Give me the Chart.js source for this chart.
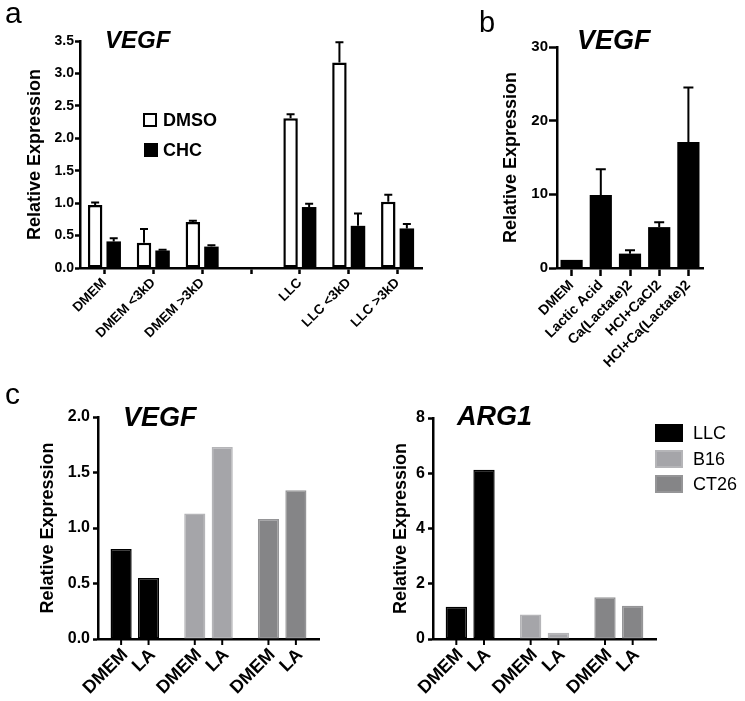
<!DOCTYPE html>
<html>
<head>
<meta charset="utf-8">
<script src="https://cdn.jsdelivr.net/npm/chart.js@4.4.0/dist/chart.umd.min.js"></script>
<style>
  body { margin: 0; background: #fff; width: 745px; height: 701px; position: relative; overflow: hidden;
         font-family: "Liberation Sans", Arial, sans-serif; color: #000; }
  canvas { position: absolute; }
  .txt { position: absolute; white-space: nowrap; line-height: 1; }
  .letter { font-size: 30px; }
  .gene { font-weight: bold; font-style: italic; }
  .box { position: absolute; box-sizing: border-box; }
</style>
</head>
<body>
<canvas id="chartA" width="440" height="345" style="left:0;top:0"></canvas>
<canvas id="chartB" width="285" height="385" style="left:460px;top:0"></canvas>
<canvas id="chartC1" width="360" height="331" style="left:0;top:370px"></canvas>
<canvas id="chartC2" width="375" height="331" style="left:370px;top:370px"></canvas>

<div class="txt letter" style="left:5px;top:-2px">a</div>
<div class="txt letter" style="left:479px;top:8px;font-size:29px">b</div>
<div class="txt letter" style="left:5px;top:379px">c</div>

<div class="txt gene" style="left:105px;top:28px;font-size:24px">VEGF</div>
<div class="txt gene" style="left:577px;top:27px;font-size:27px">VEGF</div>
<div class="txt gene" style="left:123px;top:404px;font-size:27px">VEGF</div>
<div class="txt gene" style="left:457px;top:403px;font-size:27px">ARG1</div>

<!-- legend a -->
<div class="box" style="left:143px;top:113px;width:14px;height:14px;border:2px solid #000;background:#fff"></div>
<div class="txt" style="left:163px;top:111px;font-size:18px;font-weight:bold">DMSO</div>
<div class="box" style="left:144px;top:143px;width:14px;height:14px;background:#000"></div>
<div class="txt" style="left:163px;top:141px;font-size:18px;font-weight:bold">CHC</div>

<!-- legend c -->
<div class="box" style="left:655px;top:424px;width:28px;height:18px;background:#000"></div>
<div class="txt" style="left:693px;top:424px;font-size:18px">LLC</div>
<div class="box" style="left:655px;top:450px;width:28px;height:18px;background:#a5a5a9;border:2px solid #b5b5b8"></div>
<div class="txt" style="left:693px;top:450px;font-size:18px">B16</div>
<div class="box" style="left:655px;top:475px;width:28px;height:18px;background:#858587;border:2px solid #959597"></div>
<div class="txt" style="left:693px;top:475px;font-size:18px">CT26</div>

<script>
// panel a: VEGF, DMSO vs CHC
const aCategories = ['DMEM', 'DMEM <3kD', 'DMEM >3kD', '', 'LLC', 'LLC <3kD', 'LLC >3kD'];
const aDMSO = [0.97, 0.39, 0.71, null, 2.31, 3.17, 1.02];
const aDMSOErr = [1.01, 0.60, 0.73, null, 2.37, 3.48, 1.13];
const aCHC = [0.41, 0.27, 0.33, null, 0.94, 0.65, 0.61];
const aCHCErr = [0.46, 0.28, 0.35, null, 0.99, 0.84, 0.68];
const aYTicks = [0, 0.5, 1, 1.5, 2, 2.5, 3, 3.5];

// panel b: VEGF by treatment
const bCategories = ['DMEM', 'Lactic Acid', 'Ca(Lactate)2', 'HCl+CaCl2', 'HCl+Ca(Lactate)2'];
const bValues = [1.1, 9.9, 1.95, 5.55, 17.1];
const bErr = [1.1, 13.4, 2.4, 6.2, 24.5];
const bYTicks = [0, 10, 20, 30];

// panel c: VEGF and ARG1 per cell line
const cLines = ['LLC', 'B16', 'CT26'];
const cTreatments = ['DMEM', 'LA'];
const cVegfDMEM = [0.81, 1.13, 1.08];
const cVegfLA = [0.55, 1.73, 1.34];
const cArgDMEM = [1.17, 0.89, 1.51];
const cArgLA = [6.13, 0.23, 1.2];
const cVegfTicks = [0, 0.5, 1, 1.5, 2];
const cArgTicks = [0, 2, 4, 6, 8];

const FONT = '"Liberation Sans", Arial, sans-serif';
const lineFill = ['#000000', '#a5a5a9', '#858587'];
const lineBorder = ['#000000', '#b5b5b8', '#959597'];

// one-sided error bars (upper only)
const errorBars = {
  id: 'errorBars',
  afterDatasetsDraw(chart, args, opts) {
    const ctx = chart.ctx;
    const y = chart.scales.y;
    chart.data.datasets.forEach((ds, i) => {
      if (!ds.errorTop) return;
      chart.getDatasetMeta(i).data.forEach((bar, j) => {
        const top = ds.errorTop[j];
        if (top == null || ds.data[j] == null || top <= ds.data[j]) return;
        const yTop = y.getPixelForValue(top);
        ctx.save();
        ctx.strokeStyle = '#000';
        ctx.lineWidth = 2;
        ctx.beginPath();
        ctx.moveTo(bar.x, bar.y);
        ctx.lineTo(bar.x, yTop);
        ctx.moveTo(bar.x - opts.cap, yTop);
        ctx.lineTo(bar.x + opts.cap, yTop);
        ctx.stroke();
        ctx.restore();
      });
    });
  }
};

// tick mark + rotated label under every bar (panel c)
const barTicks = {
  id: 'barTicks',
  afterDraw(chart) {
    const ctx = chart.ctx;
    const bottom = chart.chartArea.bottom;
    chart.data.datasets.forEach((ds, i) => {
      chart.getDatasetMeta(i).data.forEach(bar => {
        ctx.save();
        ctx.strokeStyle = '#000';
        ctx.lineWidth = 2;
        ctx.beginPath();
        ctx.moveTo(bar.x, bottom);
        ctx.lineTo(bar.x, bottom + 6);
        ctx.stroke();
        ctx.translate(bar.x + 4, bottom + 13);
        ctx.rotate(-Math.PI / 4);
        ctx.font = 'bold 18px ' + FONT;
        ctx.fillStyle = '#000';
        ctx.textAlign = 'right';
        ctx.textBaseline = 'middle';
        ctx.fillText(ds.label, 0, 0);
        ctx.restore();
      });
    });
  }
};

function yAxis(ticks, o) {
  return {
    min: ticks[0],
    max: ticks[ticks.length - 1],
    afterBuildTicks: s => { s.ticks = ticks.map(v => ({ value: v })); },
    afterFit: s => { s.width = o.width; },
    border: { display: true, color: '#000', width: 2.5 },
    grid: { drawOnChartArea: false, tickLength: o.tick, tickColor: '#000', tickWidth: 2.5 },
    ticks: {
      color: '#000', padding: o.pad,
      font: { family: FONT, size: o.size, weight: 'bold' },
      callback: v => o.dec ? v.toFixed(1) : String(v)
    },
    title: {
      display: true, text: 'Relative Expression', color: '#000',
      font: { family: FONT, size: 18, weight: 'bold' },
      padding: { top: o.titlePad, bottom: 0 }
    }
  };
}

function xAxis(height, tick, size) {
  return {
    afterFit: s => { s.height = height; },
    border: { display: true, color: '#000', width: 2.5 },
    grid: { offset: false, drawOnChartArea: false, tickLength: tick, tickColor: '#000', tickWidth: 2.5 },
    ticks: {
      color: '#000', autoSkip: false, maxRotation: 45, minRotation: 45, padding: 1,
      font: { family: FONT, size: size, weight: 'bold' }
    }
  };
}

const base = {
  responsive: false,
  animation: false,
  devicePixelRatio: 1,
  events: []
};

// panel a
new Chart(document.getElementById('chartA'), {
  type: 'bar',
  data: {
    labels: aCategories,
    datasets: [
      { label: 'DMSO', data: aDMSO, errorTop: aDMSOErr, backgroundColor: '#fff', borderColor: '#000', borderWidth: 2.5, borderSkipped: false },
      { label: 'CHC', data: aCHC, errorTop: aCHCErr, backgroundColor: '#000', borderWidth: 0 }
    ]
  },
  options: Object.assign({}, base, {
    layout: { padding: { left: 0, top: 41, right: 18, bottom: 0 } },
    datasets: { bar: { barPercentage: 0.78, categoryPercentage: 0.76 } },
    plugins: { legend: { display: false }, tooltip: { enabled: false }, errorBars: { cap: 4 } },
    scales: {
      x: xAxis(77, 6, 13.5),
      y: yAxis(aYTicks, { width: 80, tick: 5, pad: 1, size: 14, dec: true, titlePad: 24 })
    }
  }),
  plugins: [errorBars]
});

// panel b
new Chart(document.getElementById('chartB'), {
  type: 'bar',
  data: {
    labels: bCategories,
    datasets: [
      { label: 'VEGF', data: bValues, errorTop: bErr, backgroundColor: '#000', borderWidth: 0 }
    ]
  },
  options: Object.assign({}, base, {
    layout: { padding: { left: 0, top: 47, right: 42, bottom: 0 } },
    datasets: { bar: { barPercentage: 0.76, categoryPercentage: 1 } },
    plugins: { legend: { display: false }, tooltip: { enabled: false }, errorBars: { cap: 5 } },
    scales: {
      x: xAxis(117, 8, 14),
      y: yAxis(bYTicks, { width: 97, tick: 8, pad: 1, size: 15, dec: false, titlePad: 40 })
    }
  }),
  plugins: [errorBars]
});

function panelC(id, dmem, la, ticks, o) {
  const mk = (label, data) => ({
    label: label, data: data,
    backgroundColor: lineFill, borderColor: lineBorder, borderWidth: 1.5, borderSkipped: false
  });
  return new Chart(document.getElementById(id), {
    type: 'bar',
    data: { labels: cLines, datasets: [mk(cTreatments[0], dmem), mk(cTreatments[1], la)] },
    options: Object.assign({}, base, {
      layout: { padding: { left: 0, top: o.top, right: o.right, bottom: 0 } },
      datasets: { bar: { barPercentage: 0.77, categoryPercentage: 0.745 } },
      plugins: { legend: { display: false }, tooltip: { enabled: false } },
      scales: {
        x: {
          afterFit: s => { s.height = 62; },
          border: { display: true, color: '#000', width: 2.5 },
          grid: { display: false },
          ticks: { display: false }
        },
        y: yAxis(ticks, { width: o.width, tick: 5, pad: 3, size: 16, dec: o.dec, titlePad: o.titlePad })
      }
    }),
    plugins: [barTicks]
  });
}

panelC('chartC1', cVegfDMEM, cVegfLA, cVegfTicks, { top: 47, right: 41, width: 98, dec: true, titlePad: 37 });
panelC('chartC2', cArgDMEM, cArgLA, cArgTicks, { top: 48, right: 89, width: 63, dec: false, titlePad: 20 });
</script>
</body>
</html>
